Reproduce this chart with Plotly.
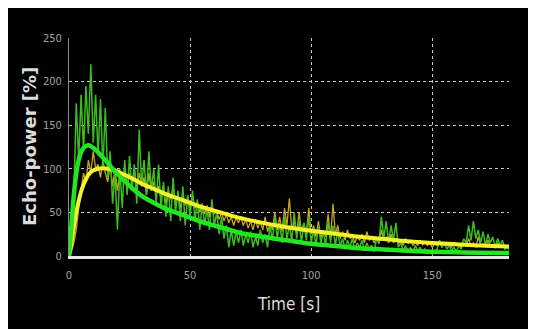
import plotly.graph_objects as go

# ---- data ----
TIME_S = list(range(183))

GREEN_RAW = [0, 20, 70, 175, 110, 185, 120, 195, 140, 220, 130, 185, 115, 180, 100, 170, 90, 120, 60, 95,
             30, 100, 55, 110, 70, 115, 75, 105, 60, 145, 80, 110, 70, 120, 75, 100, 60, 105, 55, 85,
             45, 80, 40, 90, 50, 75, 40, 80, 35, 70, 45, 75, 40, 65, 30, 60, 35, 55, 30, 65,
             35, 50, 25, 45, 20, 35, 10, 30, 12, 28, 15, 30, 12, 25, 15, 28, 10, 22, 12, 30,
             15, 25, 10, 35, 18, 45, 20, 38, 15, 45, 20, 35, 18, 50, 20, 40, 15, 38, 18, 45,
             15, 30, 12, 35, 15, 28, 12, 40, 15, 35, 12, 30, 10, 20, 8, 18, 10, 20, 8, 15,
             10, 18, 6, 15, 8, 12, 5, 20, 15, 45, 20, 40, 15, 35, 18, 38, 10, 15, 6, 12,
             5, 10, 4, 12, 6, 10, 4, 8, 3, 6, 2, 5, 8, 18, 10, 15, 8, 12, 6, 10,
             5, 12, 8, 20, 15, 35, 18, 40, 20, 30, 15, 28, 12, 25, 15, 22, 10, 20, 12, 18,
             8, 10, 6]

YELLOW_RAW = [0, 5, 15, 30, 55, 75, 95, 85, 110, 95, 120, 100, 105, 90, 110, 95, 85, 105, 80, 100,
              75, 95, 85, 100, 80, 95, 85, 100, 75, 95, 80, 90, 70, 95, 75, 85, 70, 80, 65, 80,
              60, 75, 65, 80, 60, 70, 55, 72, 58, 68, 55, 70, 55, 62, 50, 60, 48, 58, 45, 55,
              48, 52, 42, 50, 40, 48, 38, 45, 35, 44, 38, 45, 35, 42, 32, 40, 30, 42, 32, 40,
              30, 45, 28, 38, 30, 50, 30, 45, 28, 55, 35, 66, 30, 40, 25, 50, 28, 38, 25, 55,
              25, 35, 22, 40, 20, 30, 22, 48, 20, 60, 25, 35, 20, 28, 18, 30, 20, 25, 15, 22,
              18, 25, 15, 28, 18, 22, 15, 20, 14, 30, 18, 22, 15, 25, 15, 20, 14, 18, 12, 20,
              14, 18, 12, 16, 12, 18, 13, 16, 12, 15, 10, 14, 12, 16, 10, 15, 12, 14, 10, 15,
              12, 14, 10, 14, 11, 20, 12, 15, 10, 22, 12, 14, 10, 18, 11, 13, 9, 15, 10, 12,
              9, 11, 10]

FIT_T = [0, 1, 2, 3, 4, 5, 6, 7, 8, 9, 10, 12, 14, 16, 18, 20, 23, 26, 30, 35, 40, 45, 50, 55, 60,
         65, 70, 80, 90, 100, 110, 120, 130, 140, 150, 160, 170, 182]
FIT_GREEN = [0, 35, 70, 95, 110, 119, 124, 126, 127, 126, 124, 119, 113, 107, 100, 94, 86, 78, 69,
             61, 54, 49, 44, 39, 35, 31, 27, 22, 18, 14, 11.5, 9, 7.5, 6, 5, 4.3, 3.8, 3.4]
FIT_YELLOW = [0, 15, 33, 50, 63, 74, 82, 88, 93, 96, 98, 100, 100.5, 100, 99, 97, 93, 89, 83, 77,
              71, 66, 61, 56, 52, 48, 44, 38, 33, 29, 25.5, 22, 19.5, 17, 15, 13.5, 12, 11]

X_TICKS = [0, 50, 100, 150]
Y_TICKS = [0, 50, 100, 150, 200, 250]
X_TITLE = "Time [s]"
Y_TITLE = "Echo-power [%]"

# ---- figure (page has an 8px body margin, so figure coords = page coords - 8) ----
W, H = 536, 329
ML, MR, MT, MB = 61, 35, 30, 81
pw, ph = W - ML - MR, H - MT - MB
OFF = 8


def page_x(px):
    return (px - OFF - ML) / pw


def page_y(py):
    return (H - MB - (py - OFF)) / ph


fig = go.Figure()
fig.add_trace(go.Scatter(x=TIME_S, y=YELLOW_RAW, mode="lines",
                         line=dict(color="#c9a818", width=1.3), hoverinfo="skip"))
fig.add_trace(go.Scatter(x=TIME_S, y=GREEN_RAW, mode="lines",
                         line=dict(color="#3cbd1e", width=1.5), hoverinfo="skip"))
fig.add_trace(go.Scatter(x=FIT_T, y=FIT_YELLOW, mode="lines", line_shape="spline",
                         line=dict(color="#f4f22c", width=4), hoverinfo="skip"))
fig.add_trace(go.Scatter(x=FIT_T, y=FIT_GREEN, mode="lines", line_shape="spline",
                         line=dict(color="#22e622", width=4.5), hoverinfo="skip"))

tick_font = dict(family="Liberation Sans Narrow, DejaVu Sans Condensed, sans-serif", size=11, color="#a0a0a0")

fig.update_xaxes(range=[0, 181.7], tickvals=X_TICKS, ticks="", showgrid=True,
                 gridcolor="#c8c8c8", griddash="dot", gridwidth=1,
                 showline=True, linecolor="#e6e6e6", linewidth=2.5, zeroline=False,
                 tickfont=tick_font, ticklabelstandoff=7)
fig.update_yaxes(range=[0, 250], tickvals=Y_TICKS, ticks="", showgrid=True,
                 gridcolor="#c8c8c8", griddash="dot", gridwidth=1,
                 showline=True, linecolor="#8a8a8a", linewidth=1, zeroline=False,
                 tickfont=tick_font, ticklabelstandoff=4)

fig.add_annotation(text=X_TITLE, xref="paper", yref="paper",
                   x=page_x(288), y=page_y(304), xanchor="center", yanchor="middle",
                   showarrow=False,
                   font=dict(family="Liberation Sans Narrow, DejaVu Sans Condensed, sans-serif",
                             size=17, color="#dcdcdc"))
fig.add_annotation(text=Y_TITLE, xref="paper", yref="paper", textangle=-90,
                   x=page_x(29), y=page_y(147), xanchor="center", yanchor="middle",
                   showarrow=False,
                   font=dict(family="DejaVu Sans, sans-serif", size=18, color="#dcdcdc", weight="bold"))

fig.update_layout(width=W, height=H, margin=dict(l=ML, r=MR, t=MT, b=MB),
                  paper_bgcolor="black", plot_bgcolor="black", showlegend=False)

fig.write_html("out.html")
